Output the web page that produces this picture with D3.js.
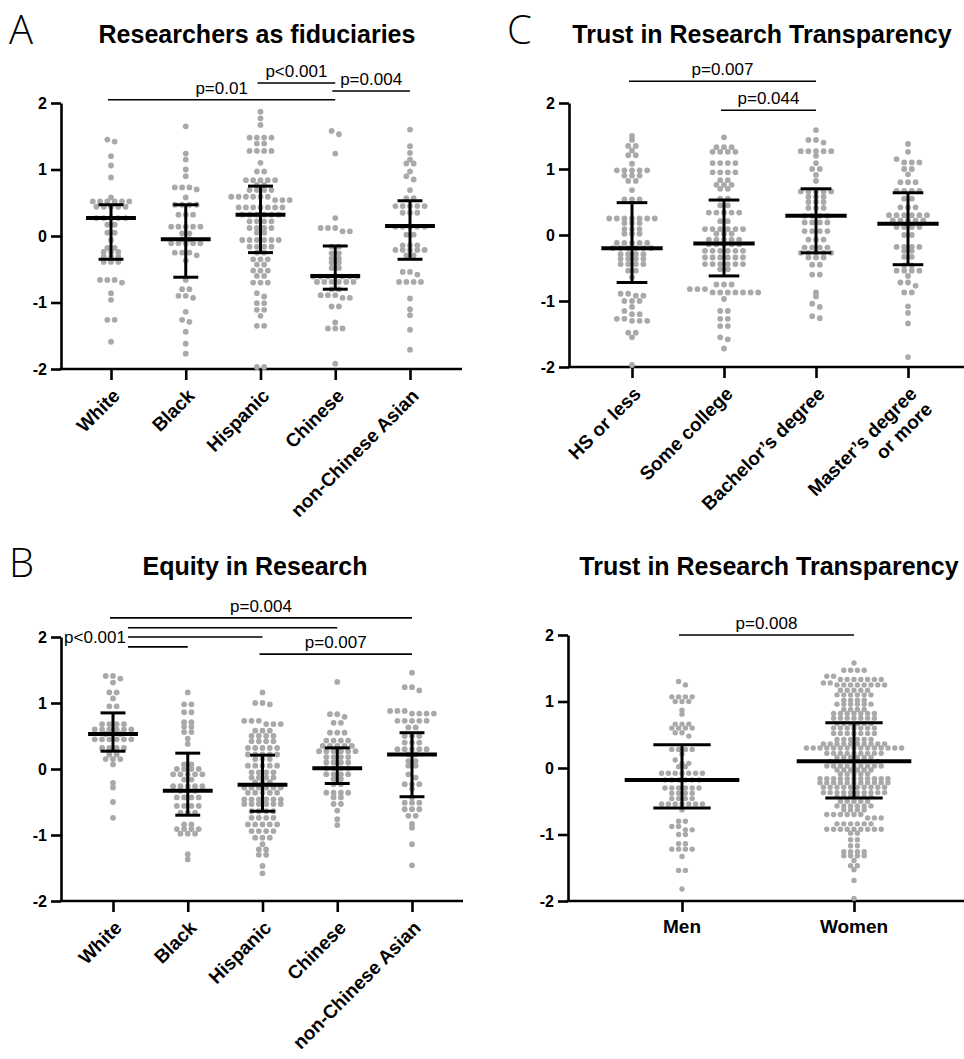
<!DOCTYPE html>
<html>
<head>
<meta charset="utf-8">
<script src="https://cdn.jsdelivr.net/npm/d3@7"></script>
<style>
body{margin:0;background:#fff}
svg{display:block;font-family:"Liberation Sans",Arial,sans-serif}
</style>
</head>
<body>
<svg id="fig" width="964" height="1059"></svg>
<script>
// categories
var raceCats = ["White","Black","Hispanic","Chinese","non-Chinese Asian"];
var eduCats = ["HS or less","Some college","Bachelor’s degree","Master’s degree\nor more"];
var sexCats = ["Men","Women"];
var yTicks = [-2,-1,0,1,2];

// A - Researchers as fiduciaries
var A_white = [1.45,1.42,1.2,1.06,.88,.58,.52,.52,.52,.52,.52,.52,.44,.44,.44,.44,.44,.27,.27,.27,.27,.27,.17,.17,.05,.05,-.06,-.18,-.18,-.24,-.24,-.24,-.31,-.31,-.31,-.39,-.39,-.39,-.66,-.66,-.66,-.7,-.86,-.96,-1.26,-1.26,-1.59];
var A_black = [1.65,1.24,1.15,1.0,.9,.73,.73,.73,.7,.58,.47,.47,.47,.47,.32,.32,.32,.14,.14,.14,.14,.14,.04,.04,-.05,-.05,-.11,-.11,-.11,-.11,-.11,-.25,-.25,-.25,-.29,-.37,-.66,-.8,-.8,-.9,-.9,-.93,-1.14,-1.26,-1.29,-1.44,-1.62,-1.77];
var A_hisp = [1.87,1.77,1.67,1.48,1.48,1.48,1.48,1.39,1.39,1.28,1.28,1.28,1.28,1.1,.97,.97,.84,.84,.84,.84,.84,.77,.77,.69,.69,.69,.69,.59,.59,.59,.59,.59,.59,.54,.54,.54,.43,.43,.43,.43,.43,.43,.43,.32,.32,.32,.32,.32,.32,.22,.22,.22,.22,.12,.12,.12,.12,.05,.05,-.06,-.06,-.06,-.06,-.06,-.06,-.16,-.16,-.16,-.16,-.25,-.25,-.35,-.35,-.35,-.43,-.43,-.52,-.52,-.52,-.6,-.6,-.7,-.7,-.7,-.86,-.91,-1.01,-1.01,-1.11,-1.11,-1.2,-1.35,-1.35,-1.97,-1.97];
var A_chin = [1.58,1.53,1.24,.27,.12,.12,.12,.07,.07,-.16,-.16,-.26,-.26,-.34,-.34,-.4,-.4,-.48,-.48,-.61,-.61,-.61,-.61,-.61,-.61,-.61,-.69,-.69,-.69,-.69,-.69,-.69,-.8,-.8,-.89,-.89,-.89,-.93,-.93,-1.06,-1.06,-1.3,-1.39,-1.39,-1.39,-1.92];
var A_nca = [1.6,1.35,1.25,1.15,1.09,1.09,.97,.9,.85,.69,.57,.57,.45,.45,.45,.45,.45,.35,.35,.35,.14,.14,.14,.14,.14,.02,.02,-.14,-.14,-.14,-.21,-.21,-.21,-.21,-.21,-.29,-.29,-.54,-.54,-.58,-.69,-.69,-.69,-.69,-.94,-1.1,-1.19,-1.41,-1.71];
var A_med = [.27,-.05,.32,-.6,.15];
var A_q3 = [.47,.47,.75,-.15,.53];
var A_q1 = [-.35,-.62,-.25,-.8,-.35];
var A_sig = [[0,3,2.05,"p=0.01"],[2,3,2.3,"p<0.001"],[3,4,2.18,"p=0.004"]];

// C - Trust in Research Transparency by education
var C_hs = [1.5,1.44,1.35,1.35,1.28,1.21,1.21,1.08,.98,.98,.98,.98,.98,.9,.9,.9,.82,.82,.68,.54,.54,.54,.25,.25,.25,.25,.25,.25,.25,.18,.18,.18,.09,.09,.09,.02,.02,.02,-.12,-.12,-.12,-.12,-.12,-.2,-.2,-.2,-.2,-.2,-.2,-.29,-.29,-.29,-.29,-.36,-.36,-.36,-.36,-.44,-.44,-.44,-.44,-.54,-.54,-.64,-.89,-.89,-.92,-.92,-1.0,-1.0,-1.0,-1.09,-1.15,-1.2,-1.2,-1.27,-1.27,-1.3,-1.3,-1.3,-1.48,-1.48,-1.55,-1.97];
var C_sc = [1.48,1.33,1.33,1.33,1.26,1.26,1.26,1.26,1.09,1.09,1.09,1.09,.95,.95,.95,.95,.83,.83,.76,.76,.76,.7,.7,.55,.55,.45,.45,.34,.34,.34,.34,.34,.21,.21,.09,.09,.09,.09,.09,.09,.02,.02,.02,-.07,-.07,-.07,-.07,-.07,-.14,-.14,-.14,-.14,-.14,-.24,-.24,-.24,-.24,-.24,-.24,-.34,-.34,-.34,-.34,-.34,-.34,-.44,-.44,-.44,-.44,-.44,-.44,-.52,-.52,-.75,-.75,-.75,-.82,-.82,-.82,-.87,-.87,-.87,-.87,-.87,-.87,-.87,-.97,-1.15,-1.15,-1.27,-1.27,-1.38,-1.38,-1.55,-1.58,-1.72];
var C_ba = [1.59,1.44,1.44,1.4,1.27,1.27,1.27,1.27,1.27,1.2,1.09,1.0,1.0,.91,.82,.66,.66,.66,.66,.66,.58,.58,.58,.5,.5,.5,.41,.41,.41,.29,.29,.29,.29,.19,.19,.19,.19,.06,.06,.06,.06,-.07,-.07,-.07,-.19,-.19,-.19,-.19,-.27,-.27,-.27,-.27,-.27,-.34,-.34,-.34,-.45,-.45,-.6,-.6,-.87,-.93,-1.04,-1.09,-1.23,-1.26];
var C_ma = [1.38,1.26,1.15,1.1,1.1,1.1,1.0,1.0,.92,.8,.8,.8,.67,.67,.67,.67,.55,.55,.42,.42,.42,.3,.3,.3,.3,.3,.3,.22,.22,.22,.22,.22,.12,.12,.12,.12,0,0,-.18,-.18,-.18,-.18,-.24,-.24,-.33,-.33,-.46,-.46,-.54,-.54,-.54,-.54,-.62,-.72,-.72,-.77,-.87,-.87,-1.08,-1.18,-1.34,-1.85];
var C_med = [-.2,-.13,.29,.17];
var C_q3 = [.49,.53,.7,.64];
var C_q1 = [-.72,-.62,-.27,-.45];
var C_sig = [[0,2,2.33,"p=0.007"],[1,2,1.89,"p=0.044"]];

// B - Equity in Research
var B_white = [1.41,1.41,1.37,1.31,1.16,1.16,1.07,.95,.95,.68,.68,.68,.68,.6,.6,.6,.6,.6,.6,.53,.53,.53,.45,.45,.45,.45,.45,.45,.32,.32,.32,.32,.22,.22,.15,.15,.15,.07,-.21,-.28,-.5,-.74];
var B_black = [1.16,.98,.98,.86,.86,.71,.71,.64,.64,.56,.56,.46,.38,.07,.07,0,0,0,0,-.08,-.08,-.08,-.08,-.08,-.16,-.16,-.26,-.26,-.26,-.26,-.26,-.33,-.33,-.33,-.43,-.43,-.43,-.43,-.56,-.56,-.56,-.56,-.66,-.66,-.66,-.84,-.84,-.91,-.91,-.91,-.91,-.98,-.98,-.98,-1.29,-1.37];
var B_hisp = [1.16,1.0,1.0,.98,.73,.73,.73,.68,.68,.68,.58,.58,.58,.5,.5,.5,.5,.42,.42,.42,.42,.32,.32,.32,.32,.32,.22,.22,.22,.22,.22,.15,.15,.15,.05,.05,.05,.05,.05,-.05,-.05,-.05,-.05,-.13,-.13,-.13,-.13,-.2,-.2,-.2,-.28,-.28,-.28,-.28,-.28,-.28,-.36,-.36,-.36,-.36,-.36,-.46,-.46,-.46,-.46,-.46,-.46,-.53,-.53,-.53,-.53,-.53,-.53,-.64,-.64,-.64,-.64,-.74,-.74,-.74,-.74,-.84,-.84,-.84,-.84,-.84,-.94,-.94,-.94,-.94,-1.04,-1.04,-1.04,-1.14,-1.22,-1.22,-1.3,-1.3,-1.47,-1.58];
var B_chin = [1.32,.83,.83,.79,.7,.7,.55,.55,.55,.43,.43,.43,.43,.35,.35,.35,.35,.35,.27,.27,.27,.27,.27,.27,.18,.18,.18,.18,.1,.1,.1,.1,.01,.01,.01,.01,-.08,-.08,-.08,-.08,-.15,-.15,-.23,-.23,-.36,-.36,-.36,-.36,-.43,-.43,-.53,-.53,-.63,-.76,-.85];
var B_nca = [1.46,1.24,1.24,1.19,.88,.88,.88,.84,.84,.84,.84,.73,.73,.73,.73,.73,.63,.63,.5,.5,.5,.4,.4,.4,.3,.3,.3,.3,.3,.22,.22,.12,.12,.05,.05,-.08,-.13,-.23,-.23,-.23,-.3,-.43,-.51,-.51,-.51,-.61,-.61,-.61,-.71,-.71,-.83,-.89,-1.14,-1.46];
var B_med = [.53,-.33,-.24,.01,.22];
var B_q3 = [.85,.24,.21,.32,.55];
var B_q1 = [.27,-.7,-.64,-.22,-.42];
var B_sig = [[0,4,2.29,"p=0.004"],[2,4,1.74,"p=0.007"]];
var B_white_sig = [[0,3,2.14],[0,2,2.0],[0,1,1.85]];   // all p<0.001

// D - Trust in Research Transparency by gender
var D_men = [1.3,1.25,1.07,1.07,1.07,1.07,1.0,1.0,1.0,.87,.81,.66,.66,.66,.6,.6,.6,.6,.53,.53,.48,.28,.28,.28,.28,.21,.12,.07,.07,.02,.02,-.08,-.08,-.08,-.08,-.08,-.08,-.08,-.18,-.18,-.18,-.18,-.18,-.18,-.3,-.3,-.3,-.3,-.3,-.3,-.38,-.38,-.38,-.38,-.46,-.46,-.46,-.46,-.54,-.54,-.54,-.54,-.54,-.54,-.54,-.63,-.8,-.8,-.88,-.88,-.93,-.93,-1.0,-1.0,-1.14,-1.14,-1.22,-1.22,-1.22,-1.22,-1.33,-1.54,-1.54,-1.82];
var D_women = [1.58,1.47,1.47,1.47,1.47,1.38,1.38,1.33,1.33,1.33,1.33,1.33,1.33,1.33,1.28,1.28,
  1.25,1.25,1.25,1.25,1.25,1.25,1.25,1.25,1.17,1.17,1.17,1.17,1.17,1.1,1.1,1.1,1.1,1.1,1.1,
  1.02,1.02,1.02,1.02,.96,.96,.96,.96,.96,.96,.88,.88,.88,.88,.82,.82,.82,.82,.82,.82,.82,
  .75,.75,.75,.75,.75,.75,.75,.67,.67,.67,.67,.67,.67,.6,.6,.6,.6,.6,.6,.6,
  .52,.52,.52,.52,.52,.52,.52,.43,.43,.43,.43,.43,.43,.36,.36,.36,.36,.36,.36,.36,.36,.36,.36,
  .3,.3,.3,.3,.3,.3,.3,.3,.3,.3,.3,.3,.3,.3,.3,.22,.22,.22,.22,.22,.22,.22,.22,.22,
  .16,.16,.16,.16,.16,.16,.1,.1,.1,.1,.1,.1,.1,.1,.03,.03,.03,.03,.03,.03,.03,.03,.03,
  -.03,-.03,-.03,-.03,-.03,-.03,-.09,-.09,-.09,-.09,-.09,
  -.16,-.16,-.16,-.16,-.16,-.16,-.16,-.16,-.16,-.16,-.16,-.22,-.22,-.22,-.22,-.22,-.22,-.22,-.22,-.22,-.22,-.22,
  -.29,-.29,-.29,-.29,-.29,-.29,-.29,-.29,-.29,-.29,-.37,-.37,-.37,-.37,-.37,-.37,-.37,-.37,-.37,-.37,
  -.43,-.43,-.43,-.43,-.43,-.43,-.5,-.5,-.5,-.5,-.5,-.57,-.57,-.57,-.57,-.57,-.57,-.63,-.63,-.63,-.63,
  -.7,-.7,-.7,-.7,-.7,-.7,-.75,-.75,-.75,-.84,-.84,-.84,-.84,-.84,-.84,-.92,-.92,-.92,-.92,-.92,-.92,-.92,-.92,-.92,
  -.98,-.98,-1.08,-1.08,-1.17,-1.17,-1.26,-1.26,-1.26,-1.26,-1.32,-1.32,-1.32,-1.32,-1.39,-1.47,-1.47,-1.53,-1.69,-1.96];
var D_med = [-.18,.1];
var D_q3 = [.35,.68];
var D_q1 = [-.6,-.45];
var D_sig = [[0,1,2.0,"p=0.008"]];

var panels = [
  {letter:"A", lx:9, ly:44, title:"Researchers as fiduciaries", tx:257, ty:43, cats:raceCats,
   data:[A_white,A_black,A_hisp,A_chin,A_nca], med:A_med, q1:A_q1, q3:A_q3, sig:A_sig,
   ax:61, xr:[111,410], xEnd:462, yr:[369,103], rot:true, gap:7.3, r:2.9},
  {letter:"C", lx:507, ly:44, title:"Trust in Research Transparency", tx:762, ty:43, cats:eduCats,
   data:[C_hs,C_sc,C_ba,C_ma], med:C_med, q1:C_q1, q3:C_q3, sig:C_sig,
   ax:569, xr:[632,908], xEnd:964, yr:[367,103], rot:true, gap:7.6, r:2.9},
  {letter:"B", lx:9, ly:577, title:"Equity in Research", tx:255, ty:575, cats:raceCats,
   data:[B_white,B_black,B_hisp,B_chin,B_nca], med:B_med, q1:B_q1, q3:B_q3, sig:B_sig, multi:B_white_sig,
   ax:61, xr:[113,412], xEnd:463, yr:[901,637], rot:true, gap:7.3, r:2.9},
  {letter:"", title:"Trust in Research Transparency", tx:769, ty:575, cats:sexCats,
   data:[D_men,D_women], med:D_med, q1:D_q1, q3:D_q3, sig:D_sig,
   ax:568, xr:[682,854], xEnd:964, yr:[901,635], rot:false, gap:6.8, r:2.7}
];

var svg = d3.select("#fig");

// Prism-like scatter: bin points into rows by pixel y, centre each row on the category
function swarm(vals, y, gap, bin) {
  var pts = vals.map(function(v){ return {v:v, y:y(v)}; })
    .sort(function(a,b){ return a.y - b.y; });
  var rows = [], cur = null;
  pts.forEach(function(p) {
    if (!cur || p.y - cur[0].y > bin) { cur = []; rows.push(cur); }
    cur.push(p);
  });
  rows.forEach(function(r) {
    r.forEach(function(p, k) { p.dx = (k - (r.length - 1) / 2) * gap; });
  });
  return pts;
}

panels.forEach(function(p) {
  var g = svg.append("g");
  var y = d3.scaleLinear().domain([-2,2]).range(p.yr);
  var x = d3.scalePoint().domain(p.cats).range(p.xr);
  var step = x.step();

  if (p.letter) {
    g.append("text").attr("x",p.lx).attr("y",p.ly)
      .style("font-family","'Open Sans',sans-serif").style("font-weight",300)
      .attr("font-size",40).text(p.letter);
  }
  g.append("text").attr("x",p.tx).attr("y",p.ty).attr("text-anchor","middle")
    .attr("font-size",25).attr("font-weight","bold").text(p.title);

  // y axis
  g.append("g").attr("transform","translate(" + p.ax + ",0)")
    .call(d3.axisLeft(y).tickValues(yTicks).tickSize(10).tickSizeOuter(0).tickPadding(4)
      .tickFormat(function(d){ return String(d); }))
    .call(function(a){
      a.selectAll("path,line").attr("stroke","#000").attr("stroke-width",2.6);
      a.selectAll("text").attr("fill","#000").attr("font-size",16).attr("font-weight","bold")
        .attr("font-family","'Liberation Sans',Arial,sans-serif");
    });

  // x axis
  var base = y(-2);
  g.append("g").attr("transform","translate(0," + base + ")")
    .call(d3.axisBottom(x).tickSize(11).tickSizeOuter(0).tickFormat(""))
    .call(function(a){
      a.select(".domain").remove();
      a.selectAll("line").attr("stroke","#000").attr("stroke-width",2.6);
    });
  g.append("line").attr("x1",p.ax - 1.3).attr("x2",p.xEnd).attr("y1",base).attr("y2",base)
    .attr("stroke","#000").attr("stroke-width",2.6);

  p.cats.forEach(function(c) {
    var lines = c.split("\n");
    var t;
    if (p.rot) {
      t = g.append("text").attr("text-anchor","end").attr("font-size",19).attr("font-weight","bold")
        .attr("transform","translate(" + (x(c) + 10) + "," + (base + 28) + ") rotate(-45)");
    } else {
      t = g.append("text").attr("text-anchor","middle").attr("font-size",19).attr("font-weight","bold")
        .attr("transform","translate(" + x(c) + "," + (base + 32) + ")");
    }
    lines.forEach(function(l, i) {
      t.append("tspan").attr("x",0).attr("dy", i ? "1.15em" : 0).text(l);
    });
  });

  // dots
  p.data.forEach(function(vals, i) {
    var cx = x(p.cats[i]);
    g.append("g").selectAll("circle").data(swarm(vals, y, p.gap, 3.5)).enter().append("circle")
      .attr("cx", function(d){ return cx + d.dx; })
      .attr("cy", function(d){ return d.y; })
      .attr("r", p.r)
      .attr("fill", "#a9a9a9");
  });

  // median + IQR
  p.cats.forEach(function(c, i) {
    var cx = x(c);
    g.append("line").attr("x1",cx).attr("x2",cx).attr("y1",y(p.q1[i])).attr("y2",y(p.q3[i]))
      .attr("stroke","#000").attr("stroke-width",3);
    [p.q1[i], p.q3[i]].forEach(function(v) {
      g.append("line").attr("x1",cx - step/6).attr("x2",cx + step/6).attr("y1",y(v)).attr("y2",y(v))
        .attr("stroke","#000").attr("stroke-width",3);
    });
    g.append("line").attr("x1",cx - step/3).attr("x2",cx + step/3).attr("y1",y(p.med[i])).attr("y2",y(p.med[i]))
      .attr("stroke","#000").attr("stroke-width",4);
  });

  // significance brackets
  p.sig.forEach(function(s) {
    var x1 = x(p.cats[s[0]]) - 3, x2 = x(p.cats[s[1]]), yy = y(s[2]);
    g.append("line").attr("x1",x1).attr("x2",x2).attr("y1",yy).attr("y2",yy)
      .attr("stroke","#000").attr("stroke-width",1.6);
    g.append("text").attr("x",(x1 + x2)/2).attr("y",yy - 6).attr("text-anchor","middle")
      .attr("font-size",17).text(s[3]);
  });
  if (p.multi) {
    var x0 = x(p.cats[0]) + 15;
    p.multi.forEach(function(s) {
      var yy = y(s[2]);
      g.append("line").attr("x1",x0).attr("x2",x(p.cats[s[1]])).attr("y1",yy).attr("y2",yy)
        .attr("stroke","#000").attr("stroke-width",1.6);
    });
    g.append("text").attr("x",x0 - 2).attr("y",y(2.0) + 6).attr("text-anchor","end")
      .attr("font-size",17).text("p<0.001");
  }
});
</script>
</body>
</html>
